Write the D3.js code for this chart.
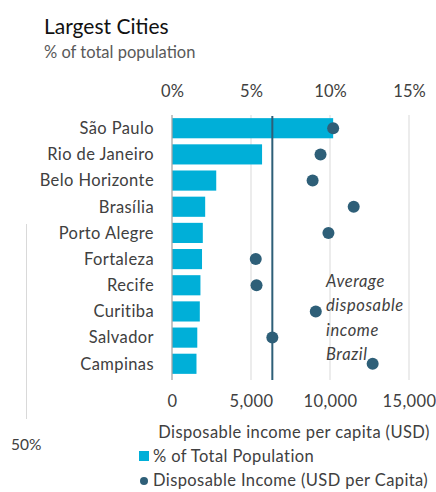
<!DOCTYPE html>
<html>
<head>
<meta charset="utf-8">
<script src="https://cdn.jsdelivr.net/npm/d3@7"></script>
<style>
body { margin: 0; background: #fff; }
text { font-family: Lato, "Open Sans", sans-serif; }
</style>
</head>
<body>
<div id="chart"></div>
<script>
var cities = ["São Paulo", "Rio de Janeiro", "Belo Horizonte", "Brasília", "Porto Alegre",
    "Fortaleza", "Recife", "Curitiba", "Salvador", "Campinas"];
var popShare = [10.2, 5.7, 2.8, 2.1, 1.95, 1.9, 1.8, 1.76, 1.6, 1.55];
var income = [10200, 9400, 8900, 11500, 9900, 5300, 5350, 9100, 6350, 12700];
var avgIncome = 6350;
var pctTicks = [0, 5, 10, 15];
var incomeTicks = [0, 5000, 10000, 15000];

var width = 436, height = 492;
var plotLeft = 172, plotRight = 409, plotTop = 115, plotBottom = 377;
var txt = "#404040", dotCol = "#2e5f78", barCol = "#00afd8";

var svg = d3.select("#chart").append("svg")
    .attr("width", width)
    .attr("height", height);

var xPct = d3.scaleLinear().domain([0, 15]).range([plotLeft, plotRight]);
var xInc = d3.scaleLinear().domain([0, 15000]).range([plotLeft, plotRight]);
var y = d3.scaleBand().domain(cities).range([plotTop, plotBottom]).paddingInner(0.23).paddingOuter(0.12);

// title
svg.append("text").attr("x", 44).attr("y", 34)
    .style("font-size", "21px").style("fill", "#111")
    .text("Largest Cities");
svg.append("text").attr("x", 44).attr("y", 58)
    .style("font-size", "16.5px").style("fill", "#595959")
    .text("% of total population");

// gridlines
svg.append("g").selectAll("line")
    .data(pctTicks.slice(1)).enter().append("line")
    .attr("x1", d => xPct(d)).attr("x2", d => xPct(d))
    .attr("y1", plotTop).attr("y2", plotBottom + 3)
    .style("stroke", "#d9d9d9").style("stroke-width", 1);

// top axis
var xAxisTop = d3.axisTop(xPct).tickValues(pctTicks).tickFormat(d => d + "%").tickSize(0).tickPadding(0);
svg.append("g")
    .attr("transform", "translate(0,97)")
    .call(xAxisTop)
    .call(g => g.select(".domain").remove())
    .selectAll("text")
    .style("font-family", "Lato, 'Open Sans', sans-serif")
    .style("font-size", "16.5px").style("fill", txt);

// bottom axis
var xAxisBottom = d3.axisBottom(xInc).tickValues(incomeTicks).tickFormat(d3.format(",")).tickSize(0).tickPadding(0);
svg.append("g")
    .attr("transform", "translate(0,395)")
    .call(xAxisBottom)
    .call(g => g.select(".domain").remove())
    .selectAll("text")
    .style("font-family", "Lato, 'Open Sans', sans-serif")
    .style("font-size", "16.5px").style("fill", txt)
    .style("letter-spacing", "0.4px");

svg.append("text").attr("x", 294).attr("y", 438)
    .attr("text-anchor", "middle")
    .style("font-size", "16.5px").style("fill", txt)
    .style("letter-spacing", "0.4px")
    .text("Disposable income per capita (USD)");

// bars
svg.append("g").selectAll("rect")
    .data(cities).enter().append("rect")
    .attr("x", xPct(0))
    .attr("y", d => y(d))
    .attr("width", (d, i) => xPct(popShare[i]) - xPct(0))
    .attr("height", y.bandwidth())
    .style("fill", barCol);

// y axis line
svg.append("line")
    .attr("x1", plotLeft).attr("x2", plotLeft)
    .attr("y1", plotTop).attr("y2", plotBottom + 3)
    .style("stroke", "#a6a6a6").style("stroke-width", 1.3);

// city labels
svg.append("g").selectAll("text")
    .data(cities).enter().append("text")
    .attr("x", 154)
    .attr("y", d => y(d) + y.bandwidth() / 2)
    .attr("dy", "0.35em")
    .attr("text-anchor", "end")
    .style("font-size", "16.5px").style("fill", txt)
    .style("letter-spacing", "0.4px")
    .text(d => d);

// average line
svg.append("line")
    .attr("x1", xInc(avgIncome)).attr("x2", xInc(avgIncome))
    .attr("y1", plotTop + 1).attr("y2", plotBottom + 3)
    .style("stroke", dotCol).style("stroke-width", 2);

// dots
svg.append("g").selectAll("circle")
    .data(cities).enter().append("circle")
    .attr("cx", (d, i) => xInc(income[i]))
    .attr("cy", d => y(d) + y.bandwidth() / 2)
    .attr("r", 6)
    .style("fill", dotCol);

// annotation
var note = ["Average", "disposable", "income", "Brazil"];
svg.append("g").selectAll("text")
    .data(note).enter().append("text")
    .attr("x", 326)
    .attr("y", (d, i) => 287 + i * 24.3)
    .style("font-size", "16.5px").style("font-style", "italic").style("fill", txt)
    .style("letter-spacing", "0.6px")
    .text(d => d);

// legend
svg.append("rect").attr("x", 139).attr("y", 451).attr("width", 10).attr("height", 10)
    .style("fill", barCol);
svg.append("text").attr("x", 153).attr("y", 462)
    .style("font-size", "16.5px").style("fill", txt)
    .style("letter-spacing", "0.4px")
    .text("% of Total Population");
svg.append("circle").attr("cx", 144).attr("cy", 481).attr("r", 4)
    .style("fill", dotCol);
svg.append("text").attr("x", 153).attr("y", 486)
    .style("font-size", "16.5px").style("fill", txt)
    .style("letter-spacing", "0.4px")
    .text("Disposable Income (USD per Capita)");

// stray fragment at left
svg.append("line").attr("x1", 26.5).attr("x2", 26.5).attr("y1", 224).attr("y2", 419)
    .style("stroke", "#d9d9d9").style("stroke-width", 1);
svg.append("text").attr("x", 11).attr("y", 450)
    .style("font-size", "15.5px").style("fill", txt)
    .text("50%");
</script>
</body>
</html>
